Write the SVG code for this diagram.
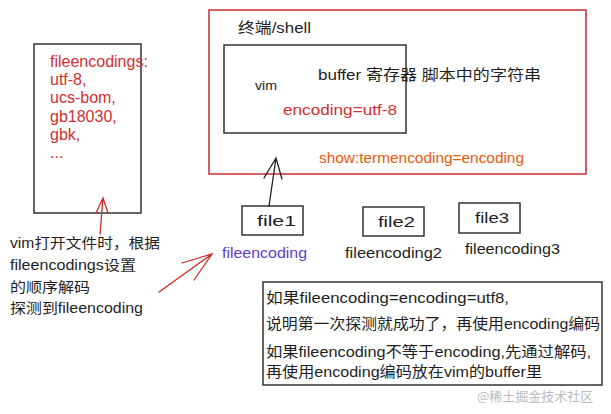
<svg xmlns="http://www.w3.org/2000/svg" width="611" height="414" viewBox="0 0 611 414">
<style>
.box{fill:none;stroke:#333;stroke-width:1.5}
.rbox{fill:none;stroke:#c92a2a;stroke-width:1.5}
.hw{font-family:"Liberation Sans","Noto Sans CJK SC",sans-serif;fill:#1e1e1e}
.red{fill:#d32f2f}
.org{fill:#e8590c}
.pur{fill:#5f3dc4}
.lnr{fill:none;stroke:#c92a2a;stroke-width:1.3;stroke-linecap:round}
.lnk{fill:none;stroke:#1e1e1e;stroke-width:1.3;stroke-linecap:round}
</style>
<rect width="611" height="414" fill="#fff"/>

<g id="fileencodings-list">
<rect class="box" x="34" y="44" width="107" height="169"/>
<g font-family="'Liberation Sans',Arial,sans-serif" font-size="16" fill="#d03030">
<text x="50" y="67">fileencodings:</text>
<text x="50" y="85">utf-8,</text>
<text x="50" y="103">ucs-bom,</text>
<text x="50" y="122">gb18030,</text>
<text x="50" y="140">gbk,</text>
<text x="50" y="158">...</text>
</g>
</g>

<g id="terminal">
<rect class="rbox" x="209" y="10" width="377" height="164"/>
<text class="hw" x="238" y="33" font-size="15" textLength="73" lengthAdjust="spacingAndGlyphs">终端/shell</text>
<text class="hw org" x="319" y="163" font-size="14" textLength="205" lengthAdjust="spacingAndGlyphs">show:termencoding=encoding</text>
</g>

<g id="vim">
<rect class="box" x="224" y="45" width="182" height="88"/>
<text class="hw" x="255" y="90" font-size="12" textLength="22" lengthAdjust="spacingAndGlyphs">vim</text>
<text class="hw" x="318" y="80" font-size="15" textLength="223" lengthAdjust="spacingAndGlyphs">buffer 寄存器 脚本中的字符串</text>
<text class="hw red" x="283" y="115" font-size="14" textLength="114" lengthAdjust="spacingAndGlyphs">encoding=utf-8</text>
</g>

<g id="file1">
<rect class="box" x="242" y="206" width="61" height="29"/>
<text class="hw" x="257" y="226" font-size="14" textLength="39" lengthAdjust="spacingAndGlyphs">file1</text>
<text class="hw pur" x="222" y="258" font-size="14" textLength="85" lengthAdjust="spacingAndGlyphs">fileencoding</text>
</g>

<g id="file2">
<rect class="box" x="363" y="207" width="61" height="29"/>
<text class="hw" x="378" y="227" font-size="14" textLength="37" lengthAdjust="spacingAndGlyphs">file2</text>
<text class="hw" x="345" y="258" font-size="14" textLength="97" lengthAdjust="spacingAndGlyphs">fileencoding2</text>
</g>

<g id="file3">
<rect class="box" x="459" y="203" width="61" height="30"/>
<text class="hw" x="475" y="223" font-size="14" textLength="34" lengthAdjust="spacingAndGlyphs">file3</text>
<text class="hw" x="465" y="254" font-size="14" textLength="95" lengthAdjust="spacingAndGlyphs">fileencoding3</text>
</g>

<g id="note-left">
<text class="hw" x="10" y="248" font-size="14" textLength="150" lengthAdjust="spacingAndGlyphs">vim打开文件时，根据</text>
<text class="hw" x="10" y="270" font-size="14" textLength="126" lengthAdjust="spacingAndGlyphs">fileencodings设置</text>
<text class="hw" x="10" y="292" font-size="14" textLength="80" lengthAdjust="spacingAndGlyphs">的顺序解码</text>
<text class="hw" x="10" y="313" font-size="14" textLength="133" lengthAdjust="spacingAndGlyphs">探测到fileencoding</text>
</g>

<g id="note-bottom">
<rect class="box" x="263" y="282" width="339" height="103"/>
<text class="hw" x="266" y="303" font-size="15" textLength="243" lengthAdjust="spacingAndGlyphs">如果fileencoding=encoding=utf8,</text>
<text class="hw" x="266" y="329" font-size="15" textLength="334" lengthAdjust="spacingAndGlyphs">说明第一次探测就成功了，再使用encoding编码</text>
<text class="hw" x="266" y="357" font-size="15" textLength="325" lengthAdjust="spacingAndGlyphs">如果fileencoding不等于encoding,先通过解码,</text>
<text class="hw" x="266" y="377" font-size="15" textLength="276" lengthAdjust="spacingAndGlyphs">再使用encoding编码放在vim的buffer里</text>
</g>

<g id="connectors">
<path class="lnr" d="M100 234 L103 198 M96 213 L103 198 L108 213"/>
<path class="lnr" d="M159 292 L212 254 M182 263 L212 254 L194 280"/>
<path class="lnk" d="M269 206 L276 158 M264 178 L276 158 L282 179"/>
</g>

<text x="477" y="401" font-family="'Noto Sans CJK SC',sans-serif" font-size="13" fill="#bbb">@稀土掘金技术社区</text>
</svg>
